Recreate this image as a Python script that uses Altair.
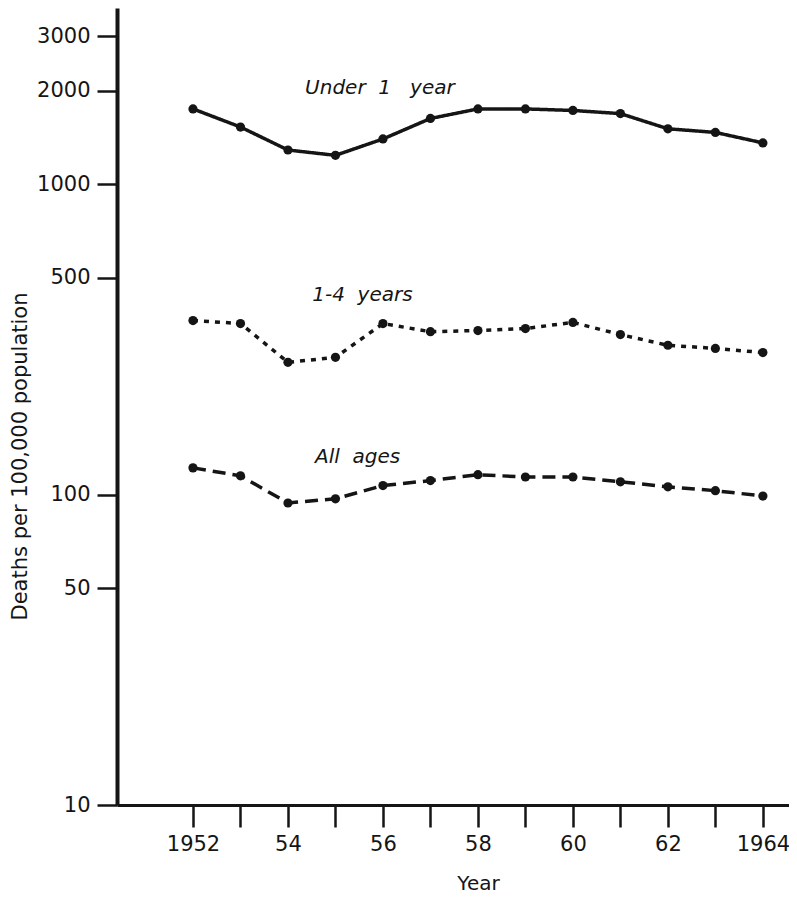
import altair as alt
import pandas as pd

years = list(range(1952, 1965))
under1 = [1750, 1530, 1290, 1240, 1400, 1630, 1750, 1750, 1730, 1690, 1510, 1470, 1360]
one_to_four = [364, 356, 267, 277, 356, 335, 338, 343, 359, 328, 303, 296, 287]
all_ages = [122, 115, 94, 97, 107, 111, 116, 114, 114, 110, 106, 103, 99]

series_names = ["Under 1 year", "1-4 years", "All ages"]
series_values = [under1, one_to_four, all_ages]

y_ticks = [10, 50, 100, 500, 1000, 2000, 3000]

label_texts = ["Under\u00a0\u00a01\u00a0\u00a0\u00a0year", "1-4\u00a0\u00a0years", "All\u00a0\u00a0ages"]
label_x = [1954.36, 1954.51, 1954.57]
label_y = [2045, 440, 132]

rows = []
for name, vals in zip(series_names, series_values):
    for yr, v in zip(years, vals):
        rows.append({"year": yr, "value": v, "series": name})
df = pd.DataFrame(rows)
labels = pd.DataFrame({"x": label_x, "y": label_y, "text": label_texts})

FONT = "DejaVu Sans"
INK = "#151515"

x_enc = alt.X(
    "year:Q",
    scale=alt.Scale(domain=[1950.4, 1964.55], nice=False, zero=False),
    axis=alt.Axis(
        values=years,
        format="d",
        labelExpr="datum.value == 1952 || datum.value == 1964 ? datum.label : (datum.value % 2 == 0 ? substring(datum.label, 2, 4) : '')",
        title="Year",
        titleX=361,
        titleY=78,
        titleAlign="center",
        titleBaseline="middle",
        titleFont=FONT,
        titleFontSize=20,
        titleFontWeight="normal",
        titleColor=INK,
        labelFont=FONT,
        labelFontSize=21,
        labelColor=INK,
        labelPadding=6,
        tickSize=22,
        tickWidth=2.5,
        tickColor=INK,
        domainWidth=3,
        domainColor=INK,
        grid=False,
        labelFlush=False,
        labelOverlap=False,
    ),
)

y_enc = alt.Y(
    "value:Q",
    scale=alt.Scale(type="log", domain=[10, 3700], nice=False),
    axis=alt.Axis(
        values=y_ticks,
        format="d",
        title="Deaths per 100,000 population",
        titleX=-97,
        titleY=448,
        titleAngle=270,
        titleAlign="center",
        titleBaseline="middle",
        titleFont=FONT,
        titleFontSize=21,
        titleFontWeight="normal",
        titleColor=INK,
        labelFont=FONT,
        labelFontSize=21,
        labelColor=INK,
        labelPadding=7,
        tickSize=20,
        tickWidth=2.5,
        tickColor=INK,
        domainWidth=4,
        domainColor=INK,
        grid=False,
        labelFlush=False,
        labelOverlap=False,
    ),
)

dash_scale = alt.Scale(domain=series_names, range=[[1, 0], [5, 6], [13, 7]])

lines = alt.Chart(df).mark_line(color=INK, strokeWidth=3.5).encode(
    x=x_enc,
    y=y_enc,
    strokeDash=alt.StrokeDash("series:N", scale=dash_scale, legend=None),
    detail="series:N",
)

points = alt.Chart(df).mark_circle(color=INK, size=85, opacity=1).encode(
    x="year:Q",
    y="value:Q",
)

texts = alt.Chart(labels).mark_text(
    align="left", baseline="middle", fontStyle="italic", fontSize=20, font=FONT, color=INK
).encode(x="x:Q", y="y:Q", text="text:N")

chart = alt.layer(lines, points, texts).properties(
    width=672,
    height=797,
    autosize=alt.AutoSizeParams(type="none"),
    padding={"left": 109, "top": 0, "right": 0, "bottom": 90},
).configure_view(stroke=None)

chart.save("out.html", embed_options={"renderer": "svg", "actions": False})
